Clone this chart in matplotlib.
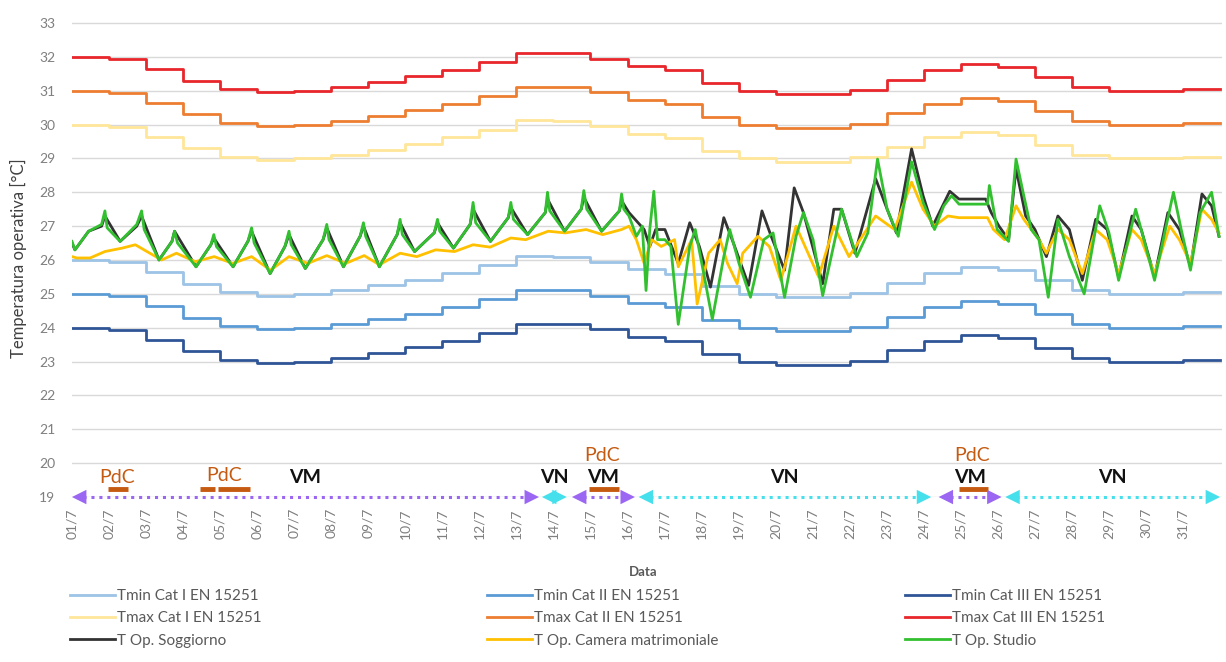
import matplotlib
matplotlib.use('Agg')
import matplotlib.pyplot as plt
import numpy as np

plt.rcParams['font.family'] = ['Lato', 'DejaVu Sans']

# giorni di luglio (posizione 1 = 01/7 ore 00)
day_edges = np.arange(1, 33)
tick_labels = ['01/7', '02/7', '03/7', '04/7', '05/7', '06/7', '07/7', '08/7', '09/7', '10/7',
               '11/7', '12/7', '13/7', '14/7', '15/7', '16/7', '17/7', '18/7', '19/7', '20/7',
               '21/7', '22/7', '23/7', '24/7', '25/7', '26/7', '27/7', '28/7', '29/7', '30/7', '31/7']

# limiti EN 15251 (valori giornalieri)
tmin1 = [26.0, 25.93, 25.64, 25.3, 25.05, 24.95, 25.0, 25.1, 25.26, 25.42, 25.62, 25.85, 26.12, 26.1, 25.95, 25.72,
         25.6, 25.23, 25.0, 24.9, 24.9, 25.03, 25.33, 25.62, 25.78, 25.7, 25.4, 25.1, 25.0, 25.0, 25.05]
tmin2 = [25.0, 24.93, 24.64, 24.3, 24.05, 23.95, 24.0, 24.1, 24.26, 24.42, 24.62, 24.85, 25.12, 25.1, 24.95, 24.72,
         24.6, 24.23, 24.0, 23.9, 23.9, 24.03, 24.33, 24.62, 24.78, 24.7, 24.4, 24.1, 24.0, 24.0, 24.05]
tmin3 = [24.0, 23.93, 23.64, 23.3, 23.05, 22.95, 23.0, 23.1, 23.26, 23.42, 23.62, 23.85, 24.12, 24.1, 23.95, 23.72,
         23.6, 23.23, 23.0, 22.9, 22.9, 23.03, 23.33, 23.62, 23.78, 23.7, 23.4, 23.1, 23.0, 23.0, 23.05]
tmax1 = [30.0, 29.93, 29.64, 29.3, 29.05, 28.95, 29.0, 29.1, 29.26, 29.42, 29.62, 29.85, 30.12, 30.1, 29.95, 29.72,
         29.6, 29.23, 29.0, 28.9, 28.9, 29.03, 29.33, 29.62, 29.78, 29.7, 29.4, 29.1, 29.0, 29.0, 29.05]
tmax2 = [31.0, 30.93, 30.64, 30.3, 30.05, 29.95, 30.0, 30.1, 30.26, 30.42, 30.62, 30.85, 31.12, 31.1, 30.95, 30.72,
         30.6, 30.23, 30.0, 29.9, 29.9, 30.03, 30.33, 30.62, 30.78, 30.7, 30.4, 30.1, 30.0, 30.0, 30.05]
tmax3 = [32.0, 31.93, 31.64, 31.3, 31.05, 30.95, 31.0, 31.1, 31.26, 31.42, 31.62, 31.85, 32.12, 32.1, 31.95, 31.72,
         31.6, 31.23, 31.0, 30.9, 30.9, 31.03, 31.33, 31.62, 31.78, 31.7, 31.4, 31.1, 31.0, 31.0, 31.05]

# T operativa - Studio
studio_t = [1.00, 1.08, 1.45, 1.80, 1.89, 1.95, 2.30, 2.75, 2.88, 2.95, 3.35, 3.70, 3.77, 3.85, 4.35, 4.75, 4.83, 4.90,
            5.35, 5.75, 5.85, 5.92, 6.35, 6.75, 6.86, 6.92, 7.30, 7.78, 7.88, 7.94, 8.33, 8.78, 8.87, 8.93,
            9.30, 9.78, 9.86, 9.92, 10.25, 10.78, 10.87, 10.93, 11.30, 11.75, 11.83, 11.90, 12.30, 12.78, 12.85, 12.92,
            13.30, 13.78, 13.84, 13.90, 14.30, 14.75, 14.82, 14.90, 15.30, 15.78, 15.84, 15.90,
            16.04, 16.24, 16.40, 16.50, 16.60, 16.71, 16.81, 17.01, 17.17, 17.37, 17.68, 17.83, 18.04, 18.29,
            18.60, 18.76, 19.01, 19.32, 19.68, 19.93, 20.24, 20.55, 20.75, 21.01, 21.27, 21.78, 22.19, 22.49,
            22.75, 23.01, 23.31, 23.67, 23.98, 24.29, 24.54, 24.75, 24.95, 25.72, 25.77, 25.98, 26.29, 26.49,
            26.70, 26.90, 27.11, 27.36, 27.62, 27.93, 28.33, 28.75, 29.00, 29.26, 29.72, 29.92, 30.23, 30.74,
            30.95, 31.20, 31.46, 31.77, 31.97]
studio_v = [26.55, 26.30, 26.85, 27.05, 27.45, 26.95, 26.55, 27.05, 27.45, 26.90, 26.00, 26.55, 26.85, 26.50,
            25.80, 26.45, 26.75, 26.40, 25.80, 26.55, 26.95, 26.50, 25.60, 26.40, 26.85, 26.45, 25.75, 26.60, 27.05, 26.60,
            25.80, 26.70, 27.10, 26.70, 25.80, 26.75, 27.20, 26.75, 26.25, 26.80, 27.20, 26.85, 26.35, 27.05, 27.70, 27.10,
            26.55, 27.25, 27.70, 27.20, 26.75, 27.40, 28.00, 27.45, 26.85, 27.50, 28.05, 27.50, 26.85, 27.45, 27.95, 27.50,
            27.30, 26.70, 27.00, 25.10, 26.90, 28.03, 26.60, 26.60, 26.40, 24.10, 26.40, 26.90, 25.70, 24.25,
            26.10, 26.90, 25.90, 24.90, 26.60, 26.80, 24.90, 26.70, 27.40, 26.60, 24.95, 27.50, 26.10, 26.80,
            28.98, 27.50, 26.70, 28.90, 27.70, 26.90, 27.60, 27.90, 27.65, 27.65, 28.20, 26.90, 26.55, 28.98,
            27.90, 26.90, 26.60, 24.90, 27.20, 26.10, 25.00, 27.60, 26.80, 25.40, 27.50, 26.70, 25.40, 28.00,
            26.90, 25.70, 27.40, 28.00, 26.70]

# T operativa - Soggiorno
sogg_t = [1.00, 1.08, 1.45, 1.80, 1.89, 2.30, 2.75, 2.88, 3.35, 3.70, 3.77, 4.35, 4.75, 4.83, 5.35, 5.75, 5.85,
          6.35, 6.75, 6.86, 7.30, 7.78, 7.88, 8.33, 8.78, 8.87, 9.30, 9.78, 9.86, 10.25, 10.78, 10.87,
          11.30, 11.75, 11.83, 12.30, 12.78, 12.85, 13.30, 13.78, 13.84, 14.30, 14.75, 14.82, 15.30, 15.78, 15.84,
          16.04, 16.45, 16.60, 16.76, 17.01, 17.37, 17.68, 17.94, 18.24, 18.60, 18.86, 19.27, 19.63, 19.88,
          20.24, 20.50, 20.75, 21.27, 21.57, 21.78, 22.14, 22.70, 23.01, 23.26, 23.67, 23.98, 24.24, 24.70,
          24.95, 25.67, 25.82, 26.03, 26.29, 26.49, 26.75, 27.00, 27.31, 27.62, 27.93, 28.28, 28.64, 28.95,
          29.26, 29.62, 29.87, 30.23, 30.59, 30.90, 31.20, 31.51, 31.77, 31.97]
sogg_v = [26.50, 26.30, 26.85, 27.00, 27.30, 26.55, 27.00, 27.30, 26.00, 26.55, 26.85, 25.80, 26.45, 26.65,
          25.80, 26.55, 26.85, 25.60, 26.40, 26.75, 25.75, 26.60, 26.95, 25.80, 26.70, 27.00, 25.80, 26.75, 27.10,
          26.25, 26.80, 27.10, 26.35, 27.05, 27.50, 26.55, 27.25, 27.55, 26.75, 27.40, 27.80, 26.85, 27.50, 27.85,
          26.85, 27.45, 27.75,
          27.40, 26.90, 26.40, 26.90, 26.90, 25.90, 27.10, 26.40, 25.20, 27.25, 26.50, 25.25, 27.45, 26.70,
          25.70, 28.13, 27.40, 25.30, 27.50, 27.50, 26.20, 28.40, 27.50, 26.80, 29.28, 27.90, 27.00, 28.03,
          27.80, 27.80, 27.40, 27.00, 26.60, 28.70, 27.30, 26.90, 26.10, 27.30, 26.90, 25.40, 27.20, 26.90,
          25.50, 27.30, 26.90, 25.50, 27.40, 26.90, 25.80, 27.95, 27.60, 26.70]

# T operativa - Camera matrimoniale
camera_t = [1.00, 1.13, 1.49, 1.89, 2.35, 2.71, 3.42, 3.82, 4.33, 4.84, 5.34, 5.85, 6.36, 6.86, 7.37, 7.88,
            8.39, 8.89, 9.30, 9.86, 10.31, 10.82, 11.33, 11.83, 12.29, 12.85, 13.25, 13.86, 14.32, 14.88, 15.33, 15.84,
            16.04, 16.24, 16.45, 16.65, 16.91, 17.27, 17.37, 17.73, 17.88, 18.19, 18.50, 18.70, 18.96, 19.11,
            19.52, 19.83, 20.14, 20.55, 21.16, 21.57, 21.98, 22.70, 23.21, 23.67, 23.98, 24.29, 24.65, 24.95,
            25.72, 25.88, 26.18, 26.49, 26.70, 27.11, 27.31, 27.62, 27.93, 28.28, 28.64, 28.95, 29.26, 29.62,
            29.87, 30.23, 30.64, 30.90, 31.20, 31.51, 31.77, 31.97]
camera_v = [26.10, 26.06, 26.06, 26.25, 26.35, 26.45, 26.00, 26.20, 25.95, 26.10, 25.90, 26.10, 25.70, 26.10,
            25.90, 26.13, 25.90, 26.13, 25.86, 26.20, 26.10, 26.30, 26.25, 26.45, 26.38, 26.65, 26.60, 26.85,
            26.80, 26.90, 26.75, 26.90,
            27.00, 26.60, 25.90, 26.60, 26.40, 26.60, 25.80, 26.60, 24.70, 26.20, 26.60, 25.90, 25.30, 26.20,
            26.70, 26.40, 25.40, 27.00, 25.50, 27.00, 26.10, 27.30, 26.90, 28.30, 27.50, 27.00, 27.30, 27.25,
            27.25, 26.90, 26.60, 27.60, 27.20, 26.60, 26.20, 26.90, 26.60, 25.60, 26.90, 26.60, 25.60, 26.90,
            26.60, 25.60, 27.00, 26.60, 25.90, 27.50, 27.20, 26.80]

# periodi di ventilazione (VM meccanica / VN naturale) e accensione PdC
vent_start = [1.0, 13.69, 14.5, 16.3, 24.4, 26.2]
vent_end = [13.61, 14.36, 16.2, 24.2, 26.1, 32.0]
vent_type = ['VM', 'VN', 'VM', 'VN', 'VM', 'VN']
pdc_start = [1.97, 4.45, 4.94, 14.96, 24.94]
pdc_end = [2.51, 4.85, 5.80, 15.77, 25.74]
pdc_label_x = [2.21, 5.12, 15.31, 25.29]
pdc_label_y = [19.57, 19.64, 20.24, 20.24]

fig = plt.figure(figsize=(12.26, 6.62), dpi=100)
ax = fig.add_axes([0.0587, 0.2492, 0.938, 0.734])

def stairs(vals, color, label):
    h, = ax.plot(day_edges, vals + vals[-1:], drawstyle='steps-post', color=color, lw=2, label=label)
    return h

h1 = stairs(tmin1, '#9DC3E6', 'Tmin Cat I EN 15251')
h2 = stairs(tmax1, '#FFE699', 'Tmax Cat I EN 15251')
h4 = stairs(tmin2, '#5B9BD5', 'Tmin Cat II EN 15251')
h5 = stairs(tmax2, '#ED7D31', 'Tmax Cat II EN 15251')
h7 = stairs(tmin3, '#2F5597', 'Tmin Cat III EN 15251')
h8 = stairs(tmax3, '#E8262B', 'Tmax Cat III EN 15251')
h3, = ax.plot(sogg_t, sogg_v, color='#333333', lw=2, label='T Op. Soggiorno')
h6, = ax.plot(camera_t, camera_v, color='#FFC000', lw=2, label='T Op. Camera matrimoniale')
h9, = ax.plot(studio_t, studio_v, color='#33C030', lw=2, label='T Op. Studio')

vent_col = {'VM': '#9A66F2', 'VN': '#45E0EC'}
for s, e, t in zip(vent_start, vent_end, vent_type):
    c = vent_col[t]
    # punte piene, linea tratteggiata a parte
    ax.annotate('', xy=(s, 19), xytext=(e, 19), annotation_clip=False,
                arrowprops=dict(arrowstyle='<|-|>', fc=c, ec=c, lw=0,
                                mutation_scale=26, shrinkA=0, shrinkB=0))
    ax.plot([s + 0.3, e - 0.3], [19, 19], color=c, lw=2.2, ls=(0, (1, 1.6)), clip_on=False)
    ax.text((s + e) / 2, 19.58, t, ha='center', va='center', fontsize=14, fontweight='bold', color='#111111')

for s, e in zip(pdc_start, pdc_end):
    ax.plot([s, e], [19.25, 19.25], color='#C55A11', lw=3.5, solid_capstyle='butt')
for x, y in zip(pdc_label_x, pdc_label_y):
    ax.text(x, y, 'PdC', ha='center', va='center', fontsize=14, color='#C55A11')

ax.set_xlim(1, 32.05)
ax.set_ylim(19, 33.35)
ax.set_yticks(np.arange(19, 34))
ax.set_xticks(day_edges[:-1])
ax.set_xticklabels(tick_labels, rotation=90)
ax.tick_params(length=0, labelsize=10, labelcolor='#7F7F7F')
ax.tick_params(axis='x', pad=8)
ax.tick_params(axis='y', pad=12)
ax.grid(axis='y', color='#D9D9D9', lw=1)
ax.set_axisbelow(True)
for sp in ax.spines.values():
    sp.set_visible(False)

fig.text(0.015, 1 - 258 / 662, 'Temperatura operativa [°C]', rotation=90, ha='center', va='center',
         fontsize=12, color='#404040')
fig.text(643 / 1226, 1 - 572 / 662, 'Data', ha='center', va='center', fontsize=9.5, fontweight='bold',
         color='#595959')

cols = [[h1, h2, h3], [h4, h5, h6], [h7, h8, h9]]
col_x = [70 / 1226, 487 / 1226, 905 / 1226]
for hs, x in zip(cols, col_x):
    fig.legend(handles=hs, loc='upper left', bbox_to_anchor=(x, 1 - 589 / 662), frameon=False,
               fontsize=11, labelcolor='#595959', handlelength=2.95, handletextpad=0.15,
               borderpad=0, borderaxespad=0, labelspacing=0.55)

fig.savefig('out.png', dpi=100)
